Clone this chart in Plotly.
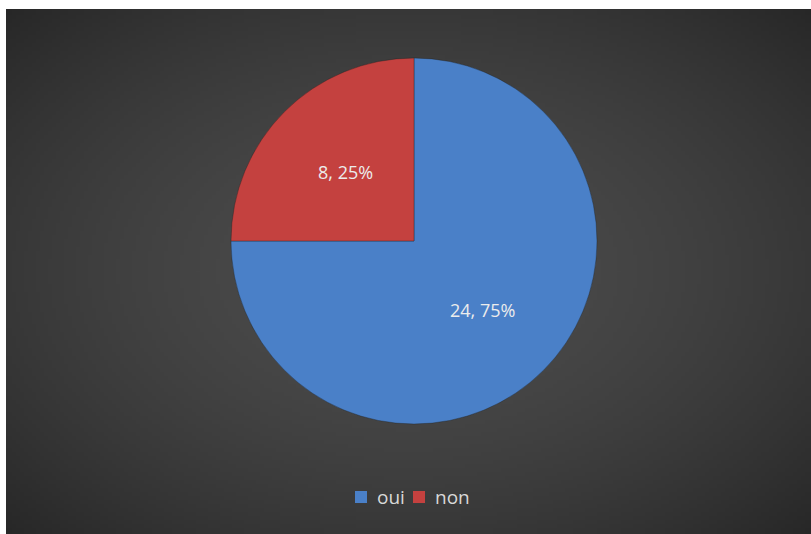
import base64
import struct
import zlib

import numpy as np
import plotly.graph_objects as go

# Survey answers
labels = ["oui", "non"]
counts = [24, 8]
slice_colors = ["#4a80c8", "#c4413f"]

W, H = 811, 534


def radial_gradient_png(w, h, inner=76, outer_drop=20.2, power=1.67):
    """Build a small grey radial-gradient PNG and return it as a data URI."""
    ys, xs = np.mgrid[0:h, 0:w]
    dx = (xs - (w - 1) / 2) / ((w - 1) / 2)
    dy = (ys - (h - 1) / 2) / ((h - 1) / 2)
    d = np.sqrt(dx ** 2 + dy ** 2)
    g = np.clip(inner - outer_drop * d ** power, 0, 255).astype(np.uint8)
    rgb = np.stack([g, g, g], axis=-1)
    raw = b"".join(b"\x00" + rgb[r].tobytes() for r in range(h))

    def chunk(tag, data):
        c = struct.pack(">I", len(data)) + tag + data
        return c + struct.pack(">I", zlib.crc32(tag + data) & 0xFFFFFFFF)

    png = b"\x89PNG\r\n\x1a\n"
    png += chunk(b"IHDR", struct.pack(">IIBBBBB", w, h, 8, 2, 0, 0, 0))
    png += chunk(b"IDAT", zlib.compress(raw, 9))
    png += chunk(b"IEND", b"")
    return "data:image/png;base64," + base64.b64encode(png).decode()


# Chart area inside the white page frame
left, top, right, bottom = 6, 9, 811, 534
# Pie placement (pixels)
cx, cy, r = 414, 241, 183
label_radius = 0.53  # data labels sit at about half the radius

fig = go.Figure(
    go.Pie(
        labels=labels,
        values=counts,
        sort=False,
        direction="clockwise",
        rotation=0,
        marker=dict(colors=slice_colors, line=dict(color="rgba(30,30,30,0.35)", width=1)),
        textinfo="none",
        hoverinfo="label+value+percent",
        showlegend=False,
        domain=dict(
            x=[(cx - r) / W, (cx + r) / W],
            y=[1 - (cy + r) / H, 1 - (cy - r) / H],
        ),
    )
)

# Data labels "count, percent" placed on each slice's mid-angle
total = sum(counts)
start = 0.0
annotations = []
for n in counts:
    frac = n / total
    mid = 2 * np.pi * (start + frac / 2)  # clockwise from 12 o'clock
    px = cx + label_radius * r * np.sin(mid)
    py = cy - label_radius * r * np.cos(mid)
    annotations.append(
        dict(
            x=px / W,
            y=1 - py / H,
            xref="paper",
            yref="paper",
            text=f"{n}, {round(frac * 100)}%",
            showarrow=False,
            xanchor="center",
            yanchor="middle",
            font=dict(family="Open Sans", size=18, color="#ececec"),
        )
    )
    start += frac

# Compact legend row under the pie: colour swatch + label for each slice
legend_y = 497
swatch = 12
legend_x = [355, 413]  # left edge of each swatch
shapes = []
for lx, name, col in zip(legend_x, labels, slice_colors):
    shapes.append(
        dict(
            type="rect",
            xref="paper",
            yref="paper",
            x0=lx / W,
            x1=(lx + swatch) / W,
            y0=1 - (legend_y + swatch / 2) / H,
            y1=1 - (legend_y - swatch / 2) / H,
            fillcolor=col,
            line=dict(width=0),
            layer="above",
        )
    )
    annotations.append(
        dict(
            x=(lx + swatch + 8) / W,
            y=1 - legend_y / H,
            xref="paper",
            yref="paper",
            text=name,
            showarrow=False,
            xanchor="left",
            yanchor="middle",
            font=dict(family="Open Sans", size=19, color="#d9d9d9"),
        )
    )

fig.update_layout(
    width=W,
    height=H,
    margin=dict(l=0, r=0, t=0, b=0),
    paper_bgcolor="white",
    plot_bgcolor="white",
    annotations=annotations,
    shapes=shapes,
    showlegend=False,
    images=[
        dict(
            source=radial_gradient_png(201, 131),
            xref="paper",
            yref="paper",
            x=left / W,
            y=1 - top / H,
            sizex=(right - left) / W,
            sizey=(bottom - top) / H,
            xanchor="left",
            yanchor="top",
            sizing="stretch",
            layer="below",
        )
    ],
)

fig.write_html("out.html")
